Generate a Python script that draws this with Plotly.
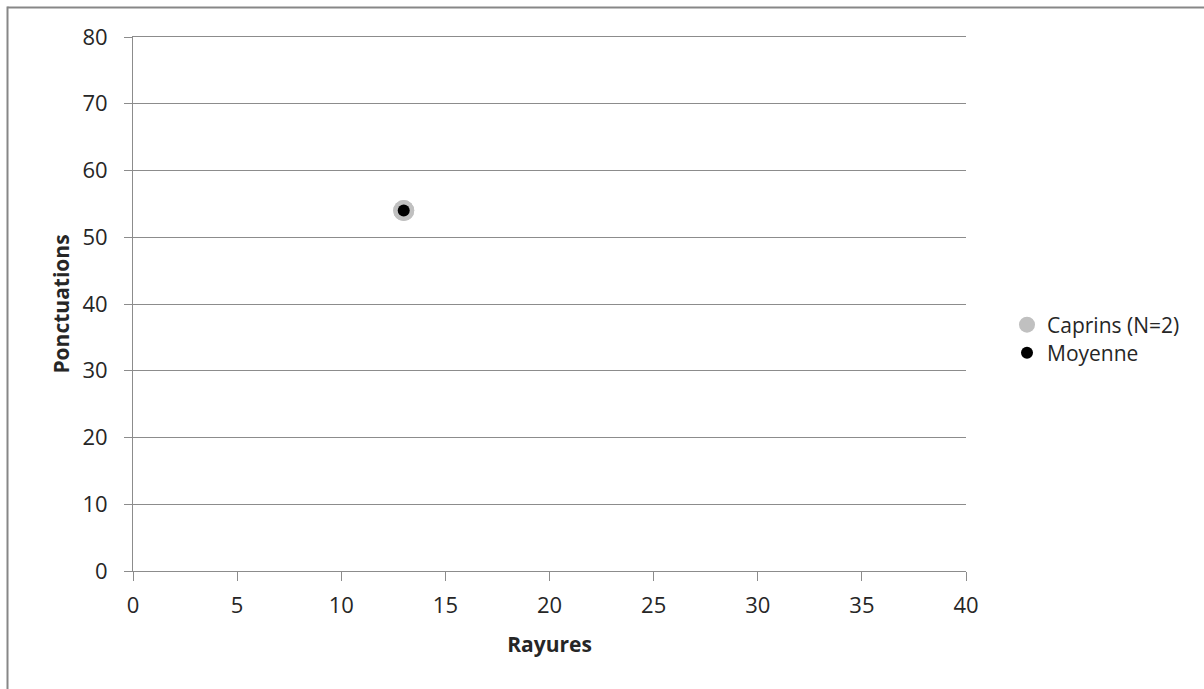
import plotly.graph_objects as go

# Data
caprins_x = [13, 13]
caprins_y = [54, 54]
moyenne_x = [13]
moyenne_y = [54]

x_ticks = [0, 5, 10, 15, 20, 25, 30, 35, 40]
y_ticks = [0, 10, 20, 30, 40, 50, 60, 70, 80]

FONT = "Open Sans"
TXT = "#262626"
GRID = "#8c8c8c"
BORDER = "#878787"

W, H = 1204, 689
L, R, T, B = 133, 966, 37, 571
pw, ph = R - L, B - T

def px2x(p):
    return (p - L) / pw

def px2y(p):
    return (B - p) / ph

fig = go.Figure()
fig.add_trace(go.Scatter(
    x=caprins_x, y=caprins_y, mode="markers", name="Caprins (N=2)",
    marker=dict(color="#c0c0c0", size=21, line=dict(width=0)),
    legend="legend",
))
fig.add_trace(go.Scatter(
    x=moyenne_x, y=moyenne_y, mode="markers", name="Moyenne",
    marker=dict(color="#000000", size=12, line=dict(width=0)),
    legend="legend2",
))

leg_common = dict(
    xanchor="left", yanchor="middle",
    font=dict(family=FONT, size=21, color=TXT),
    bgcolor="rgba(0,0,0,0)", itemsizing="trace",
)

fig.update_layout(
    width=W, height=H,
    margin=dict(l=L, r=W - R, t=T, b=H - B),
    paper_bgcolor="white", plot_bgcolor="white",
    font=dict(family=FONT, size=21, color=TXT),
    showlegend=True,
    legend=dict(x=px2x(1007), y=px2y(325), **leg_common),
    legend2=dict(x=px2x(1007), y=px2y(353), **leg_common),
    xaxis=dict(
        range=[0, 40], tickvals=x_ticks, showgrid=False, zeroline=False,
        showline=True, linecolor=GRID, linewidth=1, mirror=True,
        ticks="outside", ticklen=9, tickcolor=GRID, tickwidth=1,
        ticklabelstandoff=6,
        tickfont=dict(family=FONT, size=22, color=TXT),
        title=dict(text="<b>Rayures</b>", font=dict(family=FONT, size=21, color=TXT), standoff=18),
        fixedrange=True,
    ),
    yaxis=dict(
        range=[0, 80], tickvals=y_ticks, showgrid=True, gridcolor=GRID, gridwidth=1,
        zeroline=False, showline=True, linecolor=GRID, linewidth=1,
        ticks="outside", ticklen=8, tickcolor=GRID, tickwidth=1,
        ticklabelstandoff=12,
        tickfont=dict(family=FONT, size=22, color=TXT),
        title=dict(text="<b>Ponctuations</b>", font=dict(family=FONT, size=21, color=TXT), standoff=7),
        fixedrange=True,
    ),
    shapes=[
        dict(type="line", xref="paper", yref="paper",
             x0=px2x(7.5), x1=px2x(W + 5), y0=px2y(7.5), y1=px2y(7.5),
             line=dict(color=BORDER, width=2), layer="below"),
        dict(type="line", xref="paper", yref="paper",
             x0=px2x(7.5), x1=px2x(7.5), y0=px2y(6.5), y1=px2y(H + 5),
             line=dict(color=BORDER, width=2), layer="below"),
    ],
)

fig.write_html(
    "out.html",
    config={"displayModeBar": False},
    post_script="document.body.style.margin='0px';",
)
